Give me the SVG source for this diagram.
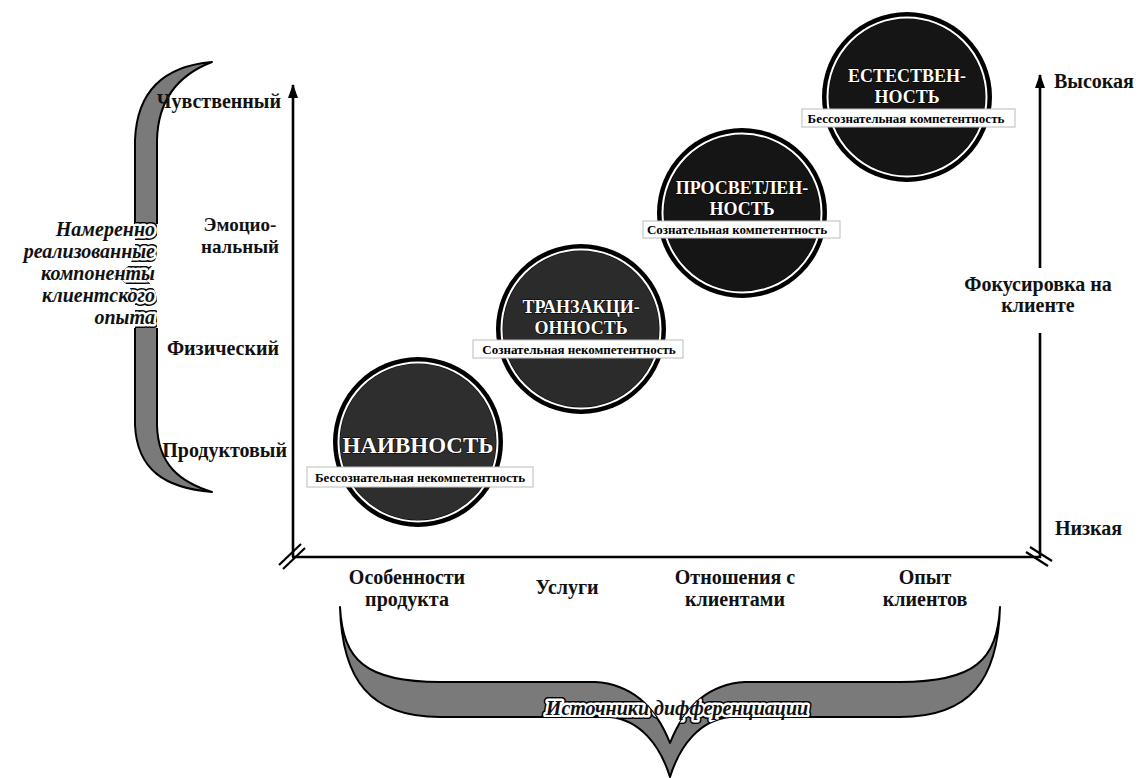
<svg xmlns="http://www.w3.org/2000/svg" width="1144" height="778" viewBox="0 0 1144 778">
<style>
.lbl{font-family:"Liberation Serif","Times New Roman",serif;font-weight:bold;font-size:20px;fill:#111}
.ital{font-family:"Liberation Serif","Times New Roman",serif;font-weight:bold;font-style:italic;font-size:20px;fill:#111}
.halo{stroke:#000;stroke-width:8;stroke-linejoin:round;fill:#000}
.halo2{stroke:#fff;stroke-width:5;stroke-linejoin:round;fill:#fff}
.title{font-family:"Liberation Serif","Times New Roman",serif;font-weight:bold;fill:#fff;stroke:#000;stroke-width:1.2;paint-order:stroke;text-anchor:middle}
.sub{font-family:"Liberation Serif","Times New Roman",serif;font-weight:bold;font-size:13px;fill:#000;text-anchor:middle}
.subbox{fill:#fff;stroke:#bbb;stroke-width:1}
.ring{fill:none;stroke:#fff;stroke-width:2}
.brace{fill:#7a7a7a;stroke:#000;stroke-width:2;stroke-linejoin:round}
.axis{stroke:#000;stroke-width:2.6;fill:none}
.brk{stroke:#000;stroke-width:2.2}
</style>
<defs>
<marker id="arr" viewBox="0 0 14 10" refX="13" refY="5" markerWidth="14" markerHeight="10" markerUnits="userSpaceOnUse" orient="auto">
<path d="M0,0 L14,5 L0,10 Z" fill="#000"/>
</marker>
<clipPath id="clipL"><path d="M212,62 C165,66 137,90 135,140 L135,250 C134,262 126,271 114,276 C126,281 134,290 135,302 L135,425 C137,470 165,488 212,492 C180,482 158,465 157,425 L157,302 C157,290 150,280 138,276 C150,272 157,262 157,250 L157,140 C158,100 178,75 212,62 Z"/></clipPath>
<clipPath id="clipB"><path d="M340,607 C343,660 365,682 440,682 L595,682 C630,684 655,705 670,743 C685,705 710,684 745,682 L900,682 C975,682 997,660 1000,607 C998,680 970,717 900,717 L730,717 C700,720 680,745 670,777 C660,745 640,720 610,717 L440,717 C370,717 342,680 340,607 Z"/></clipPath>
</defs>
<rect width="1144" height="778" fill="#fff"/>

<g id="connectors">
<line class="axis" x1="293" y1="557" x2="293" y2="85" marker-end="url(#arr)"/>
<line class="axis" x1="292" y1="557" x2="1041" y2="557"/>
<line class="axis" x1="1040" y1="558" x2="1040" y2="333"/>
<line class="axis" x1="1040" y1="268" x2="1040" y2="75" marker-end="url(#arr)"/>
<line class="brk" x1="279" y1="565" x2="301" y2="544"/>
<line class="brk" x1="283" y1="569" x2="305" y2="548"/>
<line class="brk" x1="1026" y1="552" x2="1048" y2="566"/>
<line class="brk" x1="1030" y1="547" x2="1052" y2="561"/>
</g>

<g id="brace-left">
<path class="brace" d="M212,62 C165,66 137,90 135,140 L135,250 C134,262 126,271 114,276 C126,281 134,290 135,302 L135,425 C137,470 165,488 212,492 C180,482 158,465 157,425 L157,302 C157,290 150,280 138,276 C150,272 157,262 157,250 L157,140 C158,100 178,75 212,62 Z"/>
<rect x="108" y="224" width="52" height="104" fill="#fff"/>
<g clip-path="url(#clipL)" text-anchor="end">
<g class="ital halo"><text x="155" y="236">Намеренно</text><text x="155" y="258">реализованные</text><text x="155" y="280">компоненты</text><text x="155" y="302">клиентского</text><text x="155" y="324">опыта</text></g>
<g class="ital halo2"><text x="155" y="236">Намеренно</text><text x="155" y="258">реализованные</text><text x="155" y="280">компоненты</text><text x="155" y="302">клиентского</text><text x="155" y="324">опыта</text></g>
</g>
<g class="ital" text-anchor="end"><text x="155" y="236">Намеренно</text><text x="155" y="258">реализованные</text><text x="155" y="280">компоненты</text><text x="155" y="302">клиентского</text><text x="155" y="324">опыта</text></g>
</g>

<g id="brace-bottom">
<path class="brace" d="M340,607 C343,660 365,682 440,682 L595,682 C630,684 655,705 670,743 C685,705 710,684 745,682 L900,682 C975,682 997,660 1000,607 C998,680 970,717 900,717 L730,717 C700,720 680,745 670,777 C660,745 640,720 610,717 L440,717 C370,717 342,680 340,607 Z"/>
<g clip-path="url(#clipB)" text-anchor="middle">
<text class="ital halo" x="677" y="715">Источники дифференциации</text>
<text class="ital halo2" x="677" y="715">Источники дифференциации</text>
</g>
<text class="ital" x="677" y="715" text-anchor="middle">Источники дифференциации</text>
</g>

<g id="y-labels" class="lbl">
<text x="281" y="108" text-anchor="end">Чувственный</text>
<text x="240" y="231" text-anchor="middle" font-size="19">Эмоцио-</text>
<text x="240" y="253" text-anchor="middle" font-size="19">нальный</text>
<text x="279" y="355" text-anchor="end">Физический</text>
<text x="287" y="457" text-anchor="end">Продуктовый</text>
</g>

<g id="x-labels" class="lbl" text-anchor="middle">
<text x="407" y="584">Особенности</text>
<text x="407" y="606">продукта</text>
<text x="567" y="594">Услуги</text>
<text x="735" y="584">Отношения с</text>
<text x="735" y="606">клиентами</text>
<text x="925" y="584">Опыт</text>
<text x="925" y="606">клиентов</text>
</g>

<g id="right-labels" class="lbl">
<text x="1054" y="88">Высокая</text>
<text x="1038" y="291" text-anchor="middle">Фокусировка на</text>
<text x="1038" y="312" text-anchor="middle">клиенте</text>
<text x="1055" y="535">Низкая</text>
</g>

<g id="node-naivnost">
<circle cx="418" cy="442" r="85" fill="#000"/>
<circle cx="418" cy="442" r="78" fill="#2e2e2e"/>
<circle class="ring" cx="418" cy="442" r="79.5"/>
<text class="title" x="418" y="453" font-size="23">НАИВНОСТЬ</text>
<rect class="subbox" x="307" y="467" width="226" height="20"/>
<text class="sub" x="420" y="482">Бессознательная некомпетентность</text>
</g>

<g id="node-transakcionnost">
<circle cx="581" cy="329" r="85" fill="#000"/>
<circle cx="581" cy="329" r="78" fill="#2b2b2b"/>
<circle class="ring" cx="581" cy="329" r="79.5"/>
<text class="title" x="581" y="313" font-size="18">ТРАНЗАКЦИ-</text>
<text class="title" x="581" y="334" font-size="18">ОННОСТЬ</text>
<rect class="subbox" x="473" y="340" width="210" height="18"/>
<text class="sub" x="579" y="354">Сознательная некомпетентность</text>
</g>

<g id="node-prosvetlennost">
<circle cx="742" cy="213" r="85" fill="#000"/>
<circle cx="742" cy="213" r="78" fill="#151515"/>
<circle class="ring" cx="742" cy="213" r="79.5"/>
<text class="title" x="742" y="194" font-size="18">ПРОСВЕТЛЕН-</text>
<text class="title" x="742" y="215" font-size="18">НОСТЬ</text>
<rect class="subbox" x="643" y="221" width="197" height="17"/>
<text class="sub" x="737" y="234">Сознательная компетентность</text>
</g>

<g id="node-estestvennost">
<circle cx="907" cy="97" r="85" fill="#000"/>
<circle cx="907" cy="97" r="78" fill="#151515"/>
<circle class="ring" cx="907" cy="97" r="79.5"/>
<text class="title" x="907" y="82" font-size="18">ЕСТЕСТВЕН-</text>
<text class="title" x="907" y="103" font-size="18">НОСТЬ</text>
<rect class="subbox" x="802" y="109" width="213" height="18"/>
<text class="sub" x="906" y="123">Бессознательная компетентность</text>
</g>
</svg>
